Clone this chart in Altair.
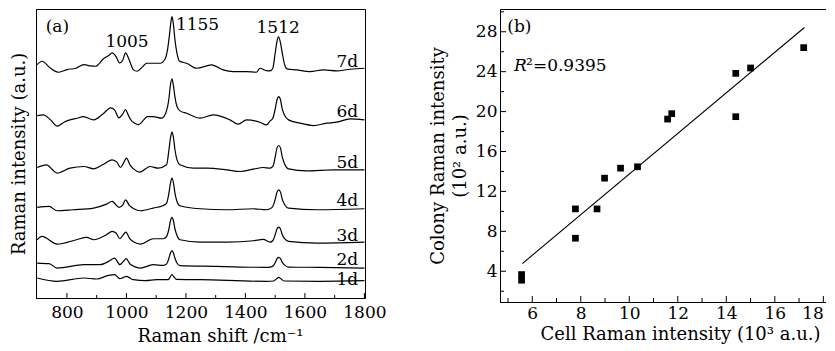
import altair as alt
import pandas as pd

FONT = "DejaVu Serif"

# ---------------- Panel (a): Raman spectra (offset, a.u.) ----------------
wn_7d = [700, 716, 745, 773, 800, 830, 857, 880, 896, 922, 940, 952, 965, 977, 988, 997, 1008, 1023, 1036, 1055,
         1068, 1090, 1113, 1130, 1138, 1144, 1149, 1153, 1158, 1163, 1170, 1178, 1202, 1236, 1286, 1325, 1359, 1404,
         1437, 1449, 1470, 1483, 1492, 1500, 1506, 1511, 1517, 1524, 1532, 1540, 1572, 1617, 1662, 1707, 1752, 1800]
int_7d = [701, 711, 690, 678, 686, 690, 701, 697, 696, 718, 728, 736, 725, 706, 715, 736, 718, 686, 681, 695,
          705, 705, 705, 718, 745, 785, 825, 845, 822, 776, 735, 712, 705, 690, 700, 685, 680, 680,
          678, 690, 683, 682, 690, 735, 770, 784, 770, 735, 700, 688, 685, 680, 685, 682, 687, 690]

wn_6d = [700, 720, 745, 767, 790, 810, 835, 855, 890, 920, 947, 960, 975, 987, 997, 1006, 1014, 1028, 1041, 1058,
         1070, 1090, 1118, 1132, 1143, 1148, 1153, 1158, 1163, 1170, 1180, 1202, 1248, 1292, 1348, 1376, 1404, 1449,
         1471, 1483, 1492, 1500, 1506, 1512, 1518, 1524, 1532, 1545, 1584, 1629, 1673, 1707, 1752, 1800]
int_6d = [548, 550, 535, 516, 528, 535, 540, 545, 535, 552, 571, 565, 541, 552, 566, 550, 536, 525, 521, 535,
          545, 545, 540, 555, 600, 640, 658, 638, 604, 575, 562, 555, 540, 550, 535, 522, 535, 528,
          520, 532, 540, 567, 595, 605, 595, 567, 548, 535, 525, 518, 525, 528, 538, 535]

wn_5d = [700, 731, 767, 810, 857, 890, 920, 952, 968, 980, 990, 1000, 1012, 1025, 1045, 1079, 1107, 1135, 1143,
         1148, 1153, 1158, 1163, 1170, 1180, 1225, 1270, 1337, 1382, 1427, 1460, 1483, 1492, 1500, 1506, 1512,
         1518, 1524, 1532, 1545, 1606, 1696, 1800]
int_5d = [392, 400, 375, 390, 395, 388, 400, 415, 408, 392, 405, 420, 400, 387, 378, 395, 390, 400, 446,
          480, 498, 482, 446, 415, 400, 390, 390, 385, 380, 387, 392, 390, 395, 423, 450, 458,
          450, 423, 402, 388, 382, 385, 385]

wn_4d = [700, 740, 767, 820, 890, 933, 952, 975, 988, 997, 1010, 1025, 1047, 1090, 1124, 1135, 1143, 1148, 1153,
         1158, 1163, 1170, 1180, 1248, 1337, 1427, 1471, 1483, 1492, 1500, 1506, 1512, 1518, 1524, 1532, 1545,
         1640, 1800]
int_4d = [272, 275, 262, 265, 270, 282, 290, 272, 280, 295, 278, 268, 262, 270, 278, 285, 316, 345, 360,
          346, 316, 290, 277, 268, 265, 268, 265, 268, 275, 296, 318, 325, 318, 296, 280, 270,
          265, 268]

wn_3d = [700, 716, 767, 832, 866, 890, 933, 952, 965, 978, 988, 998, 1010, 1025, 1047, 1090, 1124, 1135, 1143,
         1148, 1153, 1158, 1163, 1170, 1180, 1248, 1337, 1427, 1460, 1483, 1492, 1500, 1506, 1512, 1518, 1524,
         1532, 1545, 1640, 1800]
int_3d = [175, 185, 162, 175, 182, 175, 190, 200, 195, 178, 188, 198, 180, 168, 162, 178, 178, 185, 208,
          232, 242, 232, 208, 188, 175, 168, 168, 172, 176, 168, 172, 190, 207, 213, 207, 190,
          178, 170, 165, 168]

wn_2d = [700, 740, 767, 857, 911, 944, 960, 978, 990, 999, 1012, 1025, 1047, 1090, 1124, 1135, 1143, 1148, 1153,
         1158, 1163, 1170, 1180, 1303, 1471, 1483, 1494, 1501, 1507, 1512, 1518, 1524, 1533, 1545, 1650, 1800]
int_2d = [105, 103, 90, 100, 100, 112, 120, 100, 110, 118, 102, 95, 90, 100, 98, 102, 120, 135, 142,
          135, 120, 105, 97, 95, 92, 93, 97, 108, 119, 122, 118, 107, 98, 93, 92, 90]

wn_1d = [700, 767, 857, 900, 940, 960, 978, 990, 1000, 1012, 1023, 1064, 1102, 1140, 1147, 1153, 1160, 1168,
         1248, 1471, 1495, 1505, 1512, 1519, 1530, 1650, 1800]
int_1d = [60, 50, 60, 57, 68, 70, 58, 62, 65, 60, 55, 52, 55, 55, 63, 70, 63, 56,
          55, 50, 51, 58, 62, 58, 51, 50, 52]

days = ["1d", "2d", "3d", "4d", "5d", "6d", "7d"]
day_label_y = [40, 100, 170, 275, 390, 545, 695]
day_label_x = 1779

peak_text = ["(a)", "1005", "1155", "1512"]
peak_x = [768, 1002, 1239, 1510]
peak_y = [800, 755, 805, 795]

a_ticks_major = [800, 1000, 1200, 1400, 1600, 1800]
a_ticks_minor = [900, 1100, 1300, 1500, 1700]

# ---------------- Panel (b): correlation ----------------
cell_x = [5.56, 5.56, 7.78, 7.78, 8.67, 8.98, 9.64, 10.34, 11.58, 11.75, 14.39, 14.39, 15.00, 17.19]
colony_y = [3.67, 3.10, 10.25, 7.31, 10.25, 13.33, 14.33, 14.47, 19.25, 19.79, 23.83, 19.49, 24.37, 26.41]
fit_extent = [5.59, 17.22]

b_xticks_major = [6, 8, 10, 12, 14, 16, 18]
b_xticks_minor = [5, 7, 9, 11, 13, 15, 17]
b_yticks_major = [4, 8, 12, 16, 20, 24, 28]
b_yticks_minor = [2, 6, 10, 14, 18, 22, 26, 30]

# ---------------- build tables ----------------
series = {"1d": (wn_1d, int_1d), "2d": (wn_2d, int_2d), "3d": (wn_3d, int_3d), "4d": (wn_4d, int_4d),
          "5d": (wn_5d, int_5d), "6d": (wn_6d, int_6d), "7d": (wn_7d, int_7d)}
rows = []
for d in days:
    wn, it = series[d]
    for w, v in zip(wn, it):
        rows.append({"day": d, "wn": w, "I": v})
df_spec = pd.DataFrame(rows)
df_days = pd.DataFrame({"day": days, "wn": [day_label_x] * len(days), "I": day_label_y})
df_peaks = pd.DataFrame({"t": peak_text, "wn": peak_x, "I": peak_y})
df_a_major = pd.DataFrame({"wn": a_ticks_major})
df_a_minor = pd.DataFrame({"wn": a_ticks_minor})

df_pts = pd.DataFrame({"cx": cell_x, "cy": colony_y})
df_bx_major = pd.DataFrame({"cx": b_xticks_major})
df_bx_minor = pd.DataFrame({"cx": b_xticks_minor})
df_by_major = pd.DataFrame({"cy": b_yticks_major})
df_by_minor = pd.DataFrame({"cy": b_yticks_minor})
df_b_lab = pd.DataFrame({"cx": [5.47], "cy": [28.0], "t": ["(b)"]})
df_r = pd.DataFrame({"cx": [5.25], "cy": [24.1]})

W_A, H_A = 329, 289
W_B, H_B = 326, 293

xa = alt.Scale(domain=[696, 1802], nice=False, zero=False)
ya = alt.Scale(domain=[0, 868], nice=False, zero=False)

ax_a_x = alt.Axis(values=a_ticks_major, format="d", labelPadding=6, labelOverlap=False, labelFlush=False,
                  title="Raman shift /cm⁻¹",
                  titleX=184, titleY=43, titleBaseline="alphabetic", titleAlign="center")
ax_a_y = alt.Axis(labels=False, title="Raman intensity (a.u.)", titlePadding=8)

lines = alt.Chart(df_spec).mark_line(color="black", strokeWidth=1.2, interpolate="monotone").encode(
    x=alt.X("wn:Q", scale=xa, axis=ax_a_x),
    y=alt.Y("I:Q", scale=ya, axis=ax_a_y),
    detail="day:N",
)
day_text = alt.Chart(df_days).mark_text(align="right", baseline="alphabetic", font=FONT, fontSize=17,
                                        color="black").encode(
    x=alt.X("wn:Q", scale=xa), y=alt.Y("I:Q", scale=ya), text="day:N")
peak_txt = alt.Chart(df_peaks).mark_text(align="center", baseline="alphabetic", font=FONT, fontSize=17,
                                         color="black").encode(
    x=alt.X("wn:Q", scale=xa), y=alt.Y("I:Q", scale=ya), text="t:N")
a_major = alt.Chart(df_a_major).mark_rule(color="black", strokeWidth=1).encode(
    x=alt.X("wn:Q", scale=xa), y=alt.value(H_A), y2=alt.value(H_A - 5))
a_minor = alt.Chart(df_a_minor).mark_rule(color="black", strokeWidth=1).encode(
    x=alt.X("wn:Q", scale=xa), y=alt.value(H_A), y2=alt.value(H_A - 3))

panel_a = alt.layer(lines, day_text, peak_txt, a_major, a_minor).properties(width=W_A, height=H_A)

xb = alt.Scale(domain=[4.67, 18.11], nice=False, zero=False)
yb = alt.Scale(domain=[0.92, 30.28], nice=False, zero=False)

ax_b_x = alt.Axis(values=b_xticks_major, format="d", labelPadding=3, labelOverlap=False,
                  labelFlush=4, labelFlushOffset=0,
                  title="Cell Raman intensity (10³ a.u.)",
                  titleX=180, titleY=37, titleBaseline="alphabetic", titleAlign="center")
ax_b_y = alt.Axis(values=b_yticks_major, format="d", labelPadding=3, labelOverlap=False, labelFlush=False,
                  title=["Colony Raman intensity", "(10² a.u.)"], titlePadding=6, titleLineHeight=22)

pts = alt.Chart(df_pts).mark_square(color="black", size=45, opacity=1).encode(
    x=alt.X("cx:Q", scale=xb, axis=ax_b_x),
    y=alt.Y("cy:Q", scale=yb, axis=ax_b_y),
)
fit = alt.Chart(df_pts).transform_regression("cx", "cy", extent=fit_extent).mark_line(
    color="black", strokeWidth=1.1).encode(
    x=alt.X("cx:Q", scale=xb), y=alt.Y("cy:Q", scale=yb))
b_lab = alt.Chart(df_b_lab).mark_text(align="center", baseline="alphabetic", font=FONT, fontSize=17,
                                      color="black").encode(
    x=alt.X("cx:Q", scale=xb), y=alt.Y("cy:Q", scale=yb), text="t:N")
r_lab = alt.Chart(df_r).mark_text(align="left", baseline="alphabetic", font=FONT, fontSize=17,
                                  fontStyle="italic", color="black", text="R").encode(
    x=alt.X("cx:Q", scale=xb), y=alt.Y("cy:Q", scale=yb))
r_val = alt.Chart(df_r).mark_text(align="left", baseline="alphabetic", font=FONT, fontSize=17,
                                  dx=12, color="black", text="²=0.9395").encode(
    x=alt.X("cx:Q", scale=xb), y=alt.Y("cy:Q", scale=yb))
bx_major = alt.Chart(df_bx_major).mark_rule(color="black").encode(
    x=alt.X("cx:Q", scale=xb), y=alt.value(H_B), y2=alt.value(H_B - 6))
bx_minor = alt.Chart(df_bx_minor).mark_rule(color="black").encode(
    x=alt.X("cx:Q", scale=xb), y=alt.value(H_B), y2=alt.value(H_B - 4))
by_major = alt.Chart(df_by_major).mark_rule(color="black").encode(
    y=alt.Y("cy:Q", scale=yb), x=alt.value(0), x2=alt.value(6))
by_minor = alt.Chart(df_by_minor).mark_rule(color="black").encode(
    y=alt.Y("cy:Q", scale=yb), x=alt.value(0), x2=alt.value(4))

panel_b = alt.layer(fit, pts, b_lab, r_lab, r_val, bx_major, bx_minor, by_major, by_minor).properties(
    width=W_B, height=H_B)

chart = alt.hconcat(panel_a, panel_b, spacing=135, bounds="flush").properties(
    padding={"left": 1, "top": 0, "right": -1, "bottom": 0}, background="white"
).configure_view(stroke="black", strokeWidth=1).configure_axis(
    labelFont=FONT, labelFontSize=17, labelColor="black",
    titleFont=FONT, titleFontSize=18, titleFontWeight="normal", titleColor="black",
    domainColor="black", domainWidth=1, ticks=False, grid=False,
)

chart.save("out.html", embed_options={"renderer": "svg", "actions": False})
